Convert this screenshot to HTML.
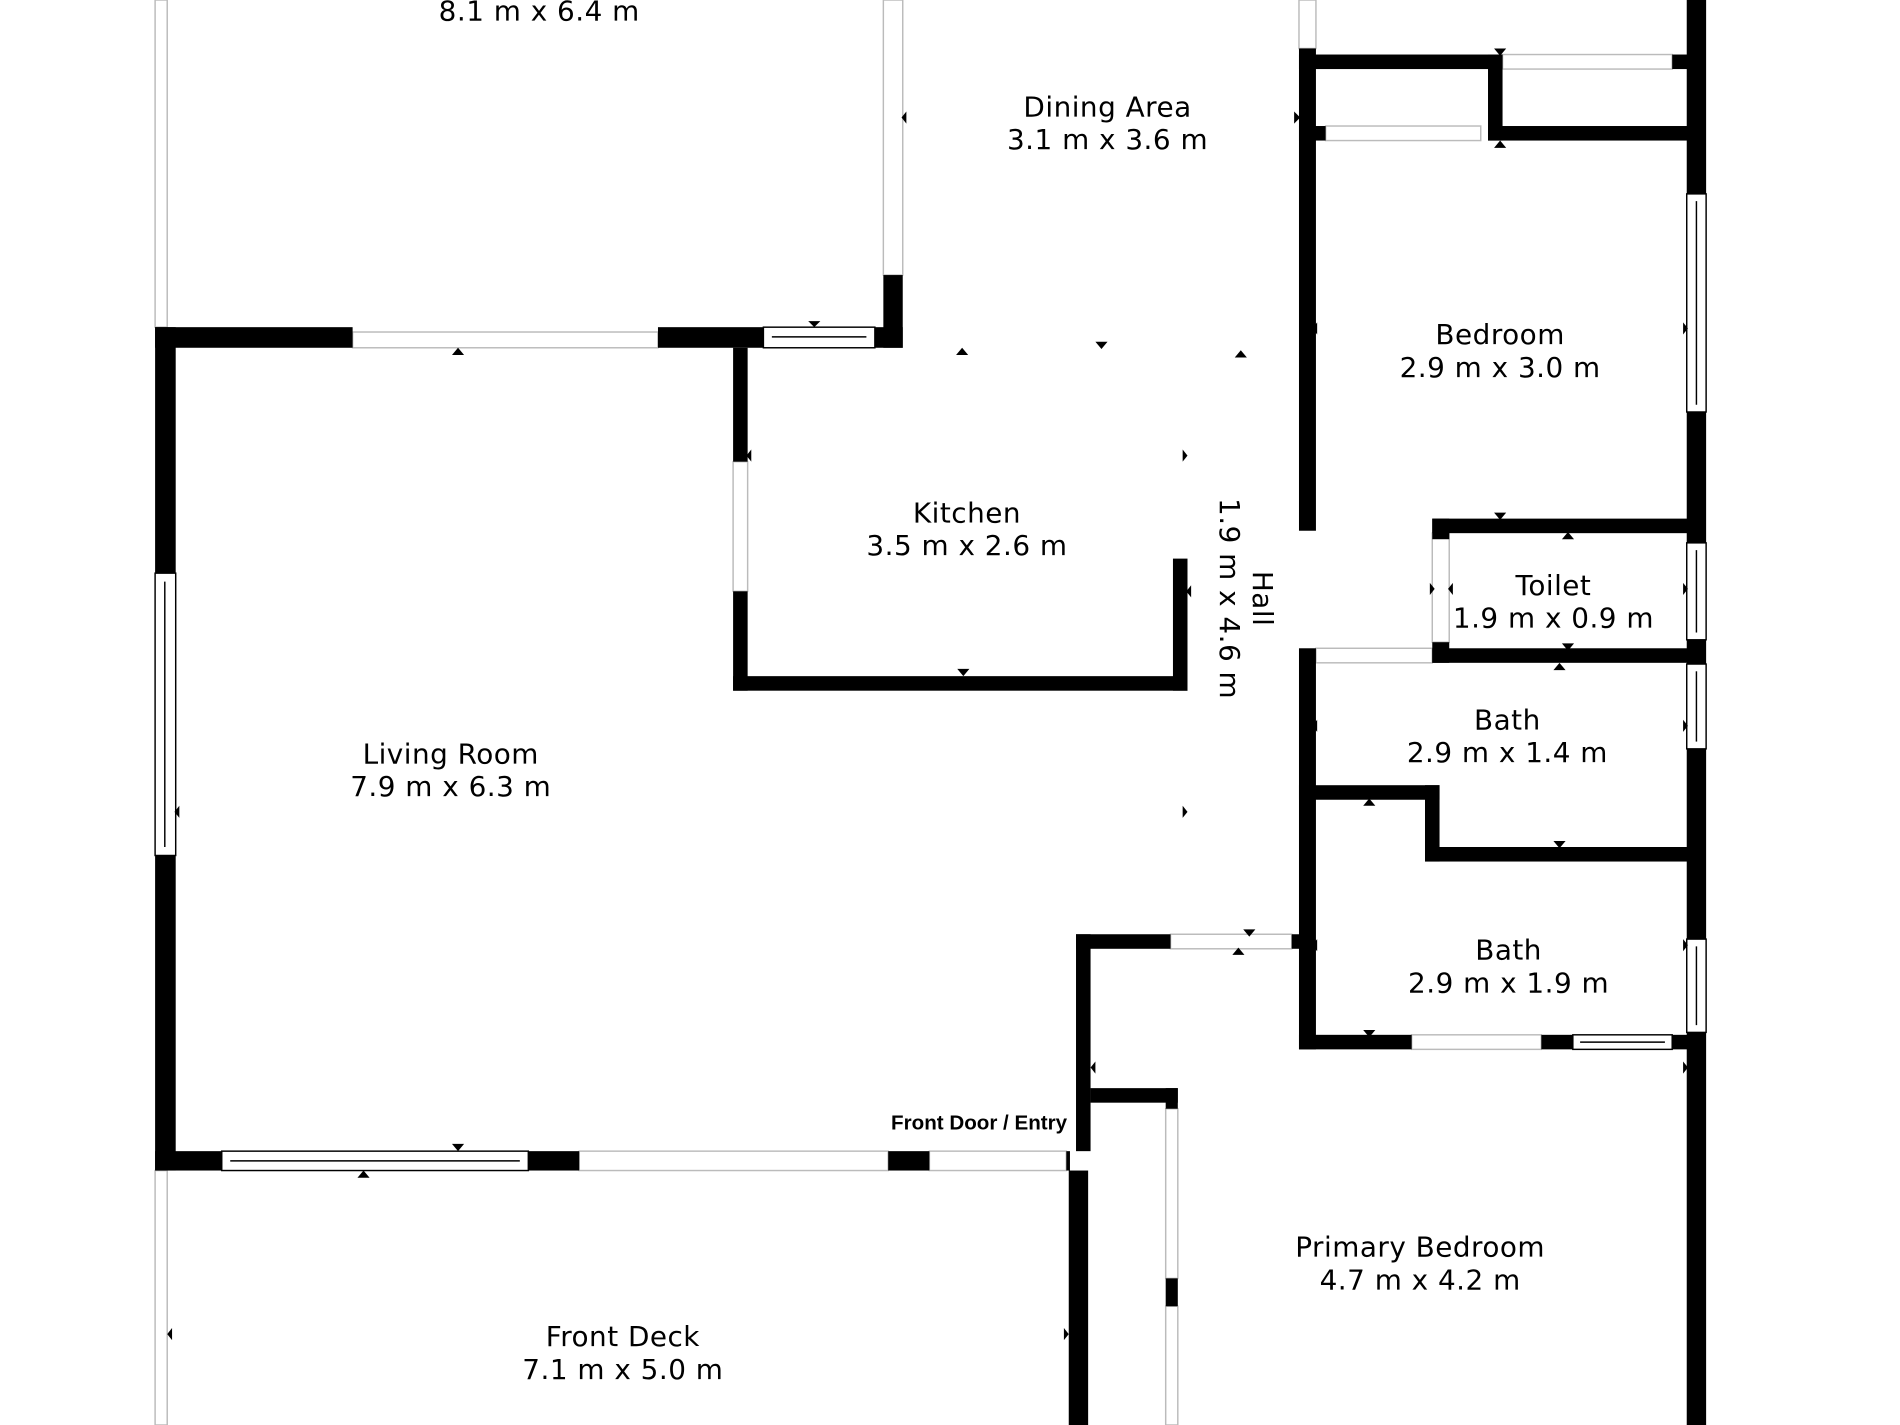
<!DOCTYPE html>
<html><head><meta charset="utf-8"><style>
html,body{margin:0;padding:0;background:#fff;}
svg{display:block;}
text{font-family:"DejaVu Sans","Liberation Sans",sans-serif;font-size:23px;letter-spacing:0.4px;fill:#000;text-anchor:middle;}
</style></head><body>
<svg width="1900" height="1425" viewBox="0 0 1568 1176" preserveAspectRatio="none" xmlns="http://www.w3.org/2000/svg">
<rect width="1568" height="1176" fill="#fff"/>
<g fill="#fff" stroke="#bbb" stroke-width="1.2">
<rect x="128" y="0" width="10" height="270"/>
<rect x="128" y="966" width="10" height="210"/>
<rect x="291" y="274" width="252" height="13"/>
<rect x="729" y="0" width="16" height="227"/>
<rect x="605" y="381" width="12" height="107"/>
<rect x="1072" y="0" width="14" height="40"/>
<rect x="1240" y="45" width="140" height="12"/>
<rect x="1086" y="535" width="96" height="12"/>
<rect x="1182" y="440" width="14" height="90"/>
<rect x="966" y="771" width="100" height="12"/>
<rect x="962" y="915" width="10" height="140"/>
<rect x="962" y="1078" width="10" height="98"/>
<rect x="478" y="950" width="255" height="16"/>
<rect x="767" y="950" width="113" height="16"/>
<rect x="1165" y="854" width="107" height="12"/>
<rect x="1094" y="104" width="128" height="12"/>
</g>
<g fill="#fff" stroke="#000" stroke-width="1.2">
<rect x="128" y="473" width="17" height="233"/><line x1="136" y1="480" x2="136" y2="699"/>
<rect x="630" y="270" width="92" height="17"/><line x1="637" y1="278" x2="715" y2="278"/>
<rect x="183" y="950" width="253" height="16"/><line x1="190" y1="958" x2="429" y2="958"/>
<rect x="1392" y="160" width="16" height="180"/><line x1="1400" y1="166" x2="1400" y2="334"/>
<rect x="1392" y="448" width="16" height="80"/><line x1="1400" y1="454" x2="1400" y2="522"/>
<rect x="1392" y="548" width="16" height="70"/><line x1="1400" y1="554" x2="1400" y2="612"/>
<rect x="1392" y="775" width="16" height="77"/><line x1="1400" y1="781" x2="1400" y2="846"/>
<rect x="1298" y="854" width="82" height="12"/><line x1="1304" y1="860" x2="1374" y2="860"/>
</g>
<g fill="#000">
<rect x="128" y="270" width="163" height="17"/>
<rect x="128" y="270" width="17" height="203"/>
<rect x="128" y="706" width="17" height="260"/>
<rect x="543" y="270" width="87" height="17"/>
<rect x="722" y="270" width="23" height="17"/>
<rect x="729" y="227" width="16" height="60"/>
<rect x="128" y="950" width="55" height="16"/>
<rect x="436" y="950" width="42" height="16"/>
<rect x="733" y="950" width="34" height="16"/>
<rect x="880" y="950" width="3" height="16"/>
<rect x="882" y="966" width="16" height="210"/>
<rect x="605" y="287" width="12" height="94"/>
<rect x="605" y="488" width="12" height="82"/>
<rect x="605" y="558" width="375" height="12"/>
<rect x="968" y="461" width="12" height="109"/>
<rect x="1072" y="40" width="14" height="398"/>
<rect x="1072" y="45" width="168" height="12"/>
<rect x="1228" y="45" width="12" height="71"/>
<rect x="1228" y="104" width="172" height="12"/>
<rect x="1072" y="104" width="22" height="12"/>
<rect x="1380" y="45" width="20" height="12"/>
<rect x="1392" y="0" width="16" height="160"/>
<rect x="1392" y="340" width="16" height="108"/>
<rect x="1392" y="528" width="16" height="20"/>
<rect x="1392" y="618" width="16" height="157"/>
<rect x="1392" y="852" width="16" height="324"/>
<rect x="1182" y="428" width="218" height="12"/>
<rect x="1182" y="535" width="218" height="12"/>
<rect x="1182" y="428" width="14" height="17"/>
<rect x="1182" y="530" width="14" height="17"/>
<rect x="1072" y="535" width="14" height="331"/>
<rect x="1072" y="648" width="116" height="12"/>
<rect x="1176" y="648" width="12" height="63"/>
<rect x="1176" y="699" width="224" height="12"/>
<rect x="1072" y="854" width="93" height="12"/>
<rect x="1272" y="854" width="26" height="12"/>
<rect x="1380" y="854" width="20" height="12"/>
<rect x="888" y="771" width="78" height="12"/>
<rect x="888" y="771" width="12" height="179"/>
<rect x="1066" y="771" width="12" height="12"/>
<rect x="900" y="898" width="72" height="12"/>
<rect x="962" y="898" width="10" height="17"/>
<rect x="962" y="1055" width="10" height="23"/>
</g>
<g fill="#000">
<polygon points="373,293 383,293 378,287"/>
<polygon points="667,265 677,265 672,270"/>
<polygon points="789,293 799,293 794,287"/>
<polygon points="904,282 914,282 909,288"/>
<polygon points="1019,295 1029,295 1024,289"/>
<polygon points="748,92 748,102 744,97"/>
<polygon points="1068,92 1068,102 1073,97"/>
<polygon points="1233,40 1243,40 1238,46"/>
<polygon points="1233,122 1243,122 1238,116"/>
<polygon points="1087,266 1087,276 1083,271"/>
<polygon points="1389,266 1389,276 1393,271"/>
<polygon points="1233,423 1243,423 1238,429"/>
<polygon points="1289,445 1299,445 1294,439"/>
<polygon points="1180,481 1180,491 1184,486"/>
<polygon points="1199,481 1199,491 1195,486"/>
<polygon points="1389,481 1389,491 1393,486"/>
<polygon points="1289,531 1299,531 1294,537"/>
<polygon points="1282,553 1292,553 1287,547"/>
<polygon points="1087,594 1087,604 1083,599"/>
<polygon points="1389,594 1389,604 1393,599"/>
<polygon points="1125,665 1135,665 1130,659"/>
<polygon points="1282,694 1292,694 1287,700"/>
<polygon points="1087,775 1087,785 1083,780"/>
<polygon points="1389,775 1389,785 1393,780"/>
<polygon points="1125,850 1135,850 1130,856"/>
<polygon points="1026,767 1036,767 1031,773"/>
<polygon points="1017,788 1027,788 1022,782"/>
<polygon points="904,876 904,886 900,881"/>
<polygon points="1389,876 1389,886 1393,881"/>
<polygon points="620,371 620,381 616,376"/>
<polygon points="976,371 976,381 980,376"/>
<polygon points="983,483 983,493 979,488"/>
<polygon points="976,665 976,675 980,670"/>
<polygon points="790,552 800,552 795,558"/>
<polygon points="148,665 148,675 144,670"/>
<polygon points="373,944 383,944 378,950"/>
<polygon points="295,972 305,972 300,966"/>
<polygon points="142,1096 142,1106 138,1101"/>
<polygon points="878,1096 878,1106 882,1101"/>
</g>
<text x="445" y="17">8.1 m x 6.4 m</text>
<text x="914" y="96">Dining Area</text>
<text x="914" y="123">3.1 m x 3.6 m</text>
<text x="1238" y="284">Bedroom</text>
<text x="1238" y="311">2.9 m x 3.0 m</text>
<text x="798" y="431">Kitchen</text>
<text x="798" y="458">3.5 m x 2.6 m</text>
<text x="1282" y="491">Toilet</text>
<text x="1282" y="518">1.9 m x 0.9 m</text>
<text x="1244" y="602">Bath</text>
<text x="1244" y="629">2.9 m x 1.4 m</text>
<text x="372" y="630">Living Room</text>
<text x="372" y="657">7.9 m x 6.3 m</text>
<text x="1245" y="792">Bath</text>
<text x="1245" y="819">2.9 m x 1.9 m</text>
<text x="808" y="932" style="font-size:17px;letter-spacing:0;font-weight:bold;font-family:'Liberation Sans',sans-serif">Front Door / Entry</text>
<text x="1172" y="1037">Primary Bedroom</text>
<text x="1172" y="1064">4.7 m x 4.2 m</text>
<text x="514" y="1111">Front Deck</text>
<text x="514" y="1138">7.1 m x 5.0 m</text>
<g transform="translate(1026,494) rotate(90)">
<text x="0" y="-8">Hall</text>
<text x="0" y="19">1.9 m x 4.6 m</text>
</g>
</svg>
</body></html>
